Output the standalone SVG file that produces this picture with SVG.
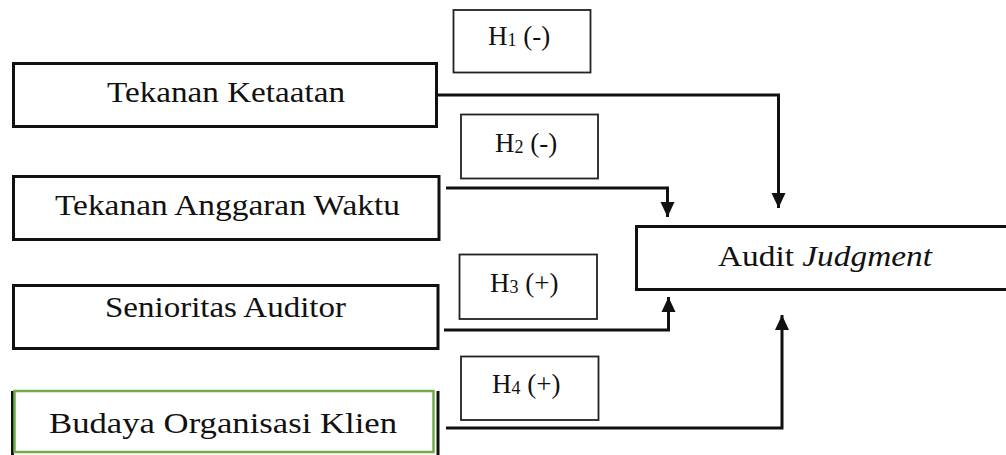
<svg xmlns="http://www.w3.org/2000/svg" width="1006" height="455" viewBox="0 0 1006 455">
  <style>
    .box { fill: #ffffff; stroke: #111111; stroke-width: 3; }
    .hyp { fill: #ffffff; stroke: #222222; stroke-width: 1.8; }
    .lbl { font-family: "Liberation Serif", "Times New Roman", serif; font-size: 30px; fill: #111111; }
    .hl { font-family: "Liberation Serif", "Times New Roman", serif; font-size: 27px; fill: #111111; }
    .sub { font-size: 18px; }
    .wire { fill: none; stroke: #111111; stroke-width: 3; }
  </style>
  <defs>
    <marker id="arrow" markerUnits="userSpaceOnUse" markerWidth="16" markerHeight="16" viewBox="0 0 16 16" refX="15" refY="8" orient="auto">
      <path d="M0,1 L15,8 L0,15 Z" fill="#111111"/>
    </marker>
  </defs>

  <rect width="1006" height="455" fill="#ffffff"/>

  <!-- independent variables -->
  <g id="tekanan-ketaatan">
    <rect class="box" x="13.5" y="63.5" width="423" height="63"/>
    <text class="lbl" x="107" y="102" textLength="238" lengthAdjust="spacingAndGlyphs">Tekanan Ketaatan</text>
  </g>
  <g id="tekanan-anggaran-waktu">
    <rect class="box" x="13.5" y="176.5" width="425.5" height="63"/>
    <text class="lbl" x="55" y="215" textLength="345" lengthAdjust="spacingAndGlyphs">Tekanan Anggaran Waktu</text>
  </g>
  <g id="senioritas-auditor">
    <rect class="box" x="13.5" y="285.5" width="424.5" height="63"/>
    <text class="lbl" x="105" y="317" textLength="241" lengthAdjust="spacingAndGlyphs">Senioritas Auditor</text>
  </g>
  <g id="budaya-organisasi-klien">
    <path d="M12.5,391 V456 M438,391 V456" fill="none" stroke="#111111" stroke-width="3"/>
    <rect x="14.5" y="391" width="419" height="61" fill="#ffffff" stroke="#70ad47" stroke-width="2.5"/>
    <text class="lbl" x="49" y="433" textLength="348" lengthAdjust="spacingAndGlyphs">Budaya Organisasi Klien</text>
  </g>

  <!-- dependent variable -->
  <g id="audit-judgment">
    <rect class="box" x="636.5" y="226.5" width="400" height="63"/>
    <text class="lbl" x="718" y="266" font-size="28" textLength="214" lengthAdjust="spacingAndGlyphs">Audit <tspan font-style="italic">Judgment</tspan></text>
  </g>

  <!-- hypothesis labels -->
  <g id="h1">
    <rect class="hyp" x="453.5" y="10" width="137" height="62.5"/>
    <text class="hl" x="488" y="45">H<tspan class="sub" dy="1">1</tspan><tspan dy="-1"> (-)</tspan></text>
  </g>
  <g id="h2">
    <rect class="hyp" x="461" y="114.5" width="137" height="64"/>
    <text class="hl" x="495" y="152">H<tspan class="sub" dy="1">2</tspan><tspan dy="-1"> (-)</tspan></text>
  </g>
  <g id="h3">
    <rect class="hyp" x="459.5" y="254.5" width="137.5" height="64.5"/>
    <text class="hl" x="490" y="292">H<tspan class="sub" dy="1">3</tspan><tspan dy="-1"> (+)</tspan></text>
  </g>
  <g id="h4">
    <rect class="hyp" x="461" y="356.5" width="137.5" height="63.5"/>
    <text class="hl" x="492" y="393">H<tspan class="sub" dy="1">4</tspan><tspan dy="-1"> (+)</tspan></text>
  </g>

  <!-- connectors -->
  <g id="connectors">
    <polyline class="wire" points="437,95 778.5,95 778.5,208" marker-end="url(#arrow)"/>
    <polyline class="wire" points="446,188 667.5,188 667.5,217" marker-end="url(#arrow)"/>
    <polyline class="wire" points="444,330 668.5,330 668.5,297" marker-end="url(#arrow)"/>
    <polyline class="wire" points="446,428 782,428 782,315" marker-end="url(#arrow)"/>
  </g>
</svg>
